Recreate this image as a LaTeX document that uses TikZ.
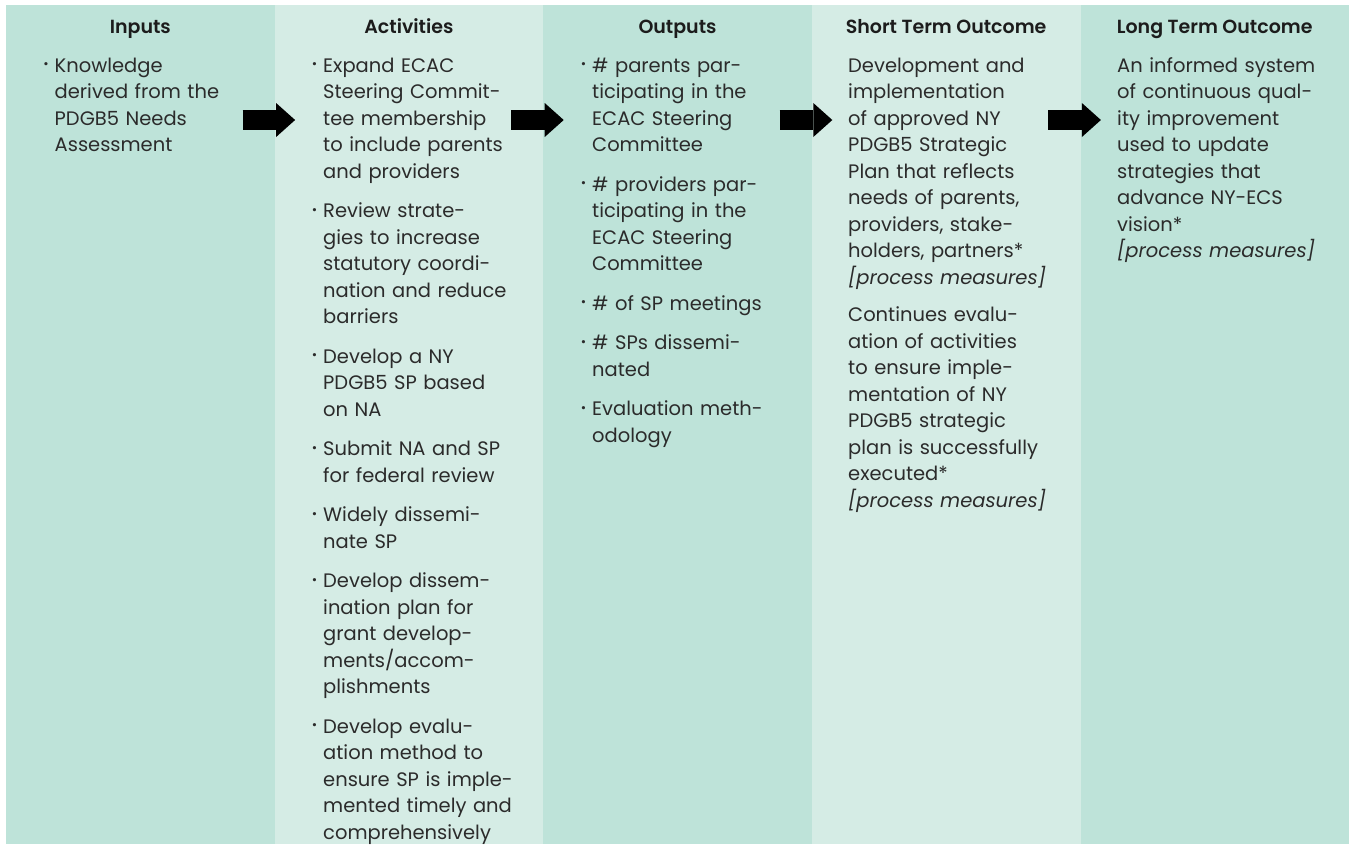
\documentclass[tikz,border=0pt]{standalone}
\usepackage{fontspec}
\setmainfont{Poppins}[BoldFont = {Poppins SemiBold}]
\usetikzlibrary{arrows.meta}
\definecolor{LMdark}{HTML}{BEE3D9}
\definecolor{LMlight}{HTML}{D5ECE5}
\definecolor{LMtext}{HTML}{2B2B2B}
\definecolor{LMhead}{HTML}{1C1C1C}
\newcommand{\bul}{\leavevmode\llap{\raisebox{3.5pt}{\fontsize{13}{13}\selectfont\textbullet}\hspace{6pt}}}
\newcommand{\itemgap}{\\[13pt]}

\begin{document}
\begin{tikzpicture}[x=1pt, y=-1pt,
    colbox/.style = {
        anchor       = north west,
        minimum width  = 268.6pt,
        minimum height = 839pt,
        inner sep    = 0pt,
        draw         = none,
    },
    colhead/.style = {
        anchor    = base,
        inner sep = 0pt,
        text      = LMhead,
        font      = \fontsize{19}{24}\selectfont\bfseries,
    },
    coltext/.style = {
        anchor     = base west,
        inner sep  = 0pt,
        text width = 225pt,
        align      = left,
        text       = LMtext,
        font       = \fontsize{19.5}{26.5}\selectfont,
    },
    blockarrow/.style = {
        line width = 20pt,
        -{Triangle[length=19pt, width=34pt, line width=0pt]},
    },
]
    \useasboundingbox (0,0) rectangle (1349,844);

    % columns
    \node[colbox, fill = LMdark]  (inp)  at (6,5)      {};
    \node[colbox, fill = LMlight] (act)  at (274.6,5)  {};
    \node[colbox, fill = LMdark]  (outp) at (543.2,5)  {};
    \node[colbox, fill = LMlight] (sto)  at (811.8,5)  {};
    \node[colbox, fill = LMdark]  (lto)  at (1080.4,5) {};

    % headers
    \node[colhead] (inph)  at (140.3,33)  {Inputs};
    \node[colhead] (acth)  at (408.9,33)  {Activities};
    \node[colhead] (outph) at (677.5,33)  {Outputs};
    \node[colhead] (stoh)  at (946.1,33)  {Short Term Outcome};
    \node[colhead] (ltoh)  at (1214.7,33) {Long Term Outcome};

    % texts
    \node[coltext] (inpt) at (54.5,72) {%
        \bul Knowledge\\ derived from the\\ PDGB5 Needs\\ Assessment};

    \node[coltext] (actt) at (323,72) {%
        \bul Expand ECAC\\ Steering Commit-\\ tee membership\\ to include parents\\ and providers\itemgap
        \bul Review strate-\\ gies to increase\\ statutory coordi-\\ nation and reduce\\ barriers\itemgap
        \bul Develop a NY\\ PDGB5 SP based\\ on NA\itemgap
        \bul Submit NA and SP\\ for federal review\itemgap
        \bul Widely dissemi-\\ nate SP\itemgap
        \bul Develop dissem-\\ ination plan for\\ grant develop-\\ ments/accom-\\ plishments\itemgap
        \bul Develop evalu-\\ ation method to\\ ensure SP is imple-\\ mented timely and\\ comprehensively};

    \node[coltext] (outpt) at (592,72) {%
        \bul \# parents par-\\ ticipating in the\\ ECAC Steering\\ Committee\itemgap
        \bul \# providers par-\\ ticipating in the\\ ECAC Steering\\ Committee\itemgap
        \bul \# of SP meetings\itemgap
        \bul \# SPs dissemi-\\ nated\itemgap
        \bul Evaluation meth-\\ odology};

    \node[coltext] (stot) at (848,72) {%
        Development and\\ implementation\\ of approved NY\\ PDGB5 Strategic\\ Plan that reflects\\
        needs of parents,\\ providers, stake-\\ holders, partners*\\ \textit{[process measures]}\\[11pt]
        Continues evalu-\\ ation of activities\\ to ensure imple-\\ mentation of NY\\ PDGB5 strategic\\
        plan is successfully\\ executed*\\ \textit{[process measures]}};

    \node[coltext] (ltot) at (1117,72) {%
        An informed system\\ of continuous qual-\\ ity improvement\\ used to update\\ strategies that\\
        advance NY-ECS\\ vision*\\ \textit{[process measures]}};

    % arrows
    \foreach \a/\b in {inp/act, act/outp, outp/sto, sto/lto}
        \draw[blockarrow] ([shift={(-32.5,115)}]\a.north east) -- ([shift={(20.5,115)}]\b.north west);
\end{tikzpicture}
\end{document}
